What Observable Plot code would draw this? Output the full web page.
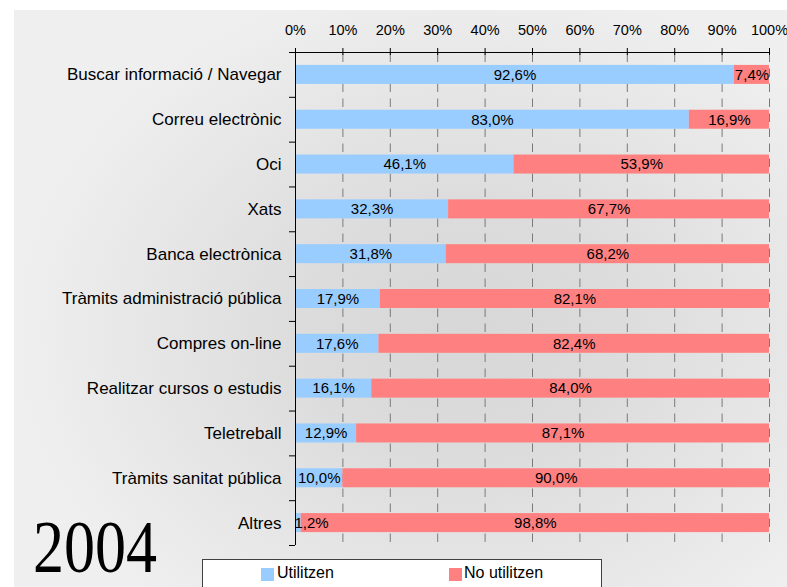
<!DOCTYPE html>
<html><head><meta charset="utf-8">
<script src="https://cdn.jsdelivr.net/npm/d3@7"></script>
<script src="https://cdn.jsdelivr.net/npm/@observablehq/plot@0.6"></script>
<style>
body{margin:0;background:#fff;}
#wrap{position:relative;width:787px;height:587px;overflow:hidden;font-family:'Liberation Sans',Arial,sans-serif;}
#bg{position:absolute;left:14px;top:10px;right:0;bottom:0;background:radial-gradient(ellipse 58% 62% at 58% 56%, #d7d7d7 0%, #dcdcdc 35%, #efefef 100%);}
#chart{position:absolute;left:0;top:0;}
#year{position:absolute;left:33px;top:511px;font-family:'Liberation Serif','Times New Roman',serif;font-size:73px;line-height:73px;color:#000;transform:scaleX(0.85);transform-origin:0 0;white-space:nowrap;}
#legend{position:absolute;left:202px;top:559px;width:398px;height:60px;background:#fff;border:1px solid #404040;}
.sw{position:absolute;width:12.5px;height:12.5px;top:8px;}
.lt{position:absolute;top:5px;font-size:16px;line-height:16px;color:#000;white-space:nowrap;}
</style></head>
<body><div id="wrap"><div id="bg"></div><div id="chart"></div><div id="year">2004</div><div id="legend"></div></div>
<script>
const categories = ["Buscar informació / Navegar","Correu electrònic","Oci","Xats","Banca electrònica","Tràmits administració pública","Compres on-line","Realitzar cursos o estudis","Teletreball","Tràmits sanitat pública","Altres"];
const utilitzen = [92.6,83.0,46.1,32.3,31.8,17.9,17.6,16.1,12.9,10.0,1.2];
const noUtilitzen = [7.4,16.9,53.9,67.7,68.2,82.1,82.4,84.0,87.1,90.0,98.8];
const series = ["Utilitzen","No utilitzen"];
const colors = ["#99ccff","#ff8080"];
const tickValues = [0,10,20,30,40,50,60,70,80,90,100];
const tickLabels = ["0%","10%","20%","30%","40%","50%","60%","70%","80%","90%","100%"];

const W=787,H=587,mt=52,mb=42,ml=295,mr=18;
const frameH=H-mt-mb, frameW=W-ml-mr;
const half=frameH/categories.length/2;
const barH=19;
const inset=(2*half-barH)/2;
const tickFracs=tickValues.map(v=>v/100);
const rows=categories.flatMap((c,i)=>[
  {cat:c,series:series[0],value:utilitzen[i]},
  {cat:c,series:series[1],value:noUtilitzen[i]}
]);
const fmt=v=>d3.format(".1f")(v).replace(".",",")+"%";

const plot=Plot.plot({
  width:W,height:H,marginTop:mt,marginBottom:mb,marginLeft:ml,marginRight:mr,
  style:{background:"transparent",fontFamily:"'Liberation Sans',Arial,sans-serif",fontSize:"15px",color:"#000",overflow:"visible"},
  x:{domain:[0,1],axis:null,label:null},
  y:{domain:categories,padding:0,round:false,axis:null,label:null},
  color:{domain:series,range:colors},
  marks:[
    Plot.gridX(tickFracs.slice(1),{stroke:"#7a7a7a",strokeOpacity:1,strokeDasharray:"8.5,6.5",strokeDashoffset:-1.5}),
    Plot.barX(rows,Plot.stackX({x:"value",y:"cat",fill:"series",offset:"normalize",insetTop:inset,insetBottom:inset})),
    Plot.text(rows,Plot.stackX({x:"value",y:"cat",z:"series",offset:"normalize",text:d=>d.value>=5?fmt(d.value):null,fill:"#000",fontSize:15})),
    Plot.text(rows,{filter:d=>d.value<5&&d.series===series[0],x:()=>0,y:"cat",text:d=>fmt(d.value),textAnchor:"start",dx:-1,fill:"#000",fontSize:15}),
    Plot.ruleX([0],{stroke:"#000"}),
    Plot.ruleY([categories[0]],{dy:-half,stroke:"#000"}),
    Plot.tickX(tickFracs,{x:d=>d,stroke:"#000",insetTop:-4,insetBottom:frameH-3}),
    Plot.tickY(categories,{y:d=>d,dy:-half,insetLeft:-6,insetRight:frameW,stroke:"#000"}),
    Plot.tickY([categories[categories.length-1]],{y:d=>d,dy:half,insetLeft:-6,insetRight:frameW,stroke:"#000"}),
    Plot.axisX(tickFracs,{anchor:"top",tickSize:0,tickPadding:18,tickFormat:d=>tickLabels[tickFracs.indexOf(d)],fontSize:14.5,fill:"#000",label:null}),
    Plot.axisY({anchor:"left",tickSize:0,tickPadding:14,fontSize:17,fill:"#000",label:null})
  ]
});
document.getElementById("chart").appendChild(plot);

const leg=document.getElementById("legend");
const legX=[[58,74],[246,261]];
series.forEach((s,i)=>{
  const sw=document.createElement("div");sw.className="sw";sw.style.left=legX[i][0]+"px";sw.style.background=colors[i];leg.appendChild(sw);
  const t=document.createElement("div");t.className="lt";t.style.left=legX[i][1]+"px";t.textContent=s;leg.appendChild(t);
});
</script>
</body></html>
